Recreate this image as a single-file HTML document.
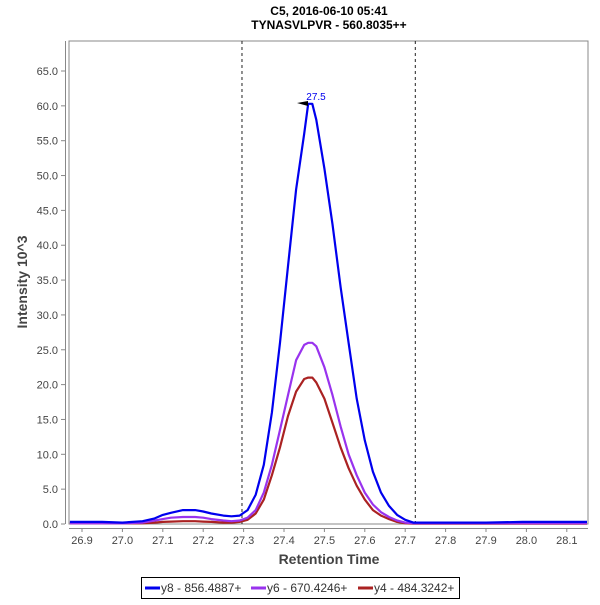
<!DOCTYPE html>
<html><head><meta charset="utf-8"><style>
body{margin:0;background:#fff;}
svg text{font-family:"Liberation Sans",sans-serif;}
</style></head><body>
<svg id="chart" width="600" height="600" viewBox="0 0 600 600" xmlns="http://www.w3.org/2000/svg">
<rect width="600" height="600" fill="#fff"/>
<text x="329" y="15" text-anchor="middle" font-size="12" font-weight="bold">C5, 2016-06-10 05:41</text>
<text x="329" y="29" text-anchor="middle" font-size="12" font-weight="bold">TYNASVLPVR - 560.8035++</text>
<rect x="69" y="41" width="519" height="483" fill="#fff" stroke="#888" stroke-width="1"/>
<line x1="65.5" y1="41" x2="65.5" y2="524" stroke="#888"/>
<line x1="69" y1="528.5" x2="588" y2="528.5" stroke="#888"/>
<g id="yticks"></g><g id="xticks"></g>
<g id="marks"></g><g id="series"></g>
<text x="316" y="100" text-anchor="middle" font-size="10" fill="#0000ee">27.5</text>
<polygon points="297,103 308,101 308,106" fill="#000"/>
<text transform="translate(27,282) rotate(-90)" text-anchor="middle" font-size="14" font-weight="bold" fill="#444">Intensity 10^3</text>
<text x="329" y="564" text-anchor="middle" font-size="14" font-weight="bold" fill="#444">Retention Time</text>
<g>
<rect x="141.5" y="577.5" width="318" height="21" fill="#fff" stroke="#000"/>
<line x1="145" y1="588" x2="160" y2="588" stroke="#0000ee" stroke-width="3"/>
<text x="161" y="592" font-size="12" fill="#333">y8 - 856.4887+</text>
<line x1="251" y1="588" x2="266" y2="588" stroke="#9933ee" stroke-width="3"/>
<text x="267" y="592" font-size="12" fill="#333">y6 - 670.4246+</text>
<line x1="358" y1="588" x2="373" y2="588" stroke="#aa2222" stroke-width="3"/>
<text x="374" y="592" font-size="12" fill="#333">y4 - 484.3242+</text>
</g>
</svg>
<script>
const times=[26.87,26.95,27.0,27.05,27.08,27.1,27.12,27.15,27.18,27.2,27.22,27.25,27.27,27.29,27.31,27.33,27.35,27.37,27.39,27.41,27.43,27.45,27.46,27.47,27.48,27.5,27.52,27.54,27.56,27.58,27.6,27.62,27.64,27.66,27.68,27.7,27.72,27.75,27.9,27.99,28.15];
const y8=[0.3,0.3,0.2,0.4,0.8,1.3,1.6,2.0,2.0,1.8,1.5,1.2,1.1,1.2,2.0,4.2,8.5,16,26,37,48,56,60.3,60.3,58,51,43,34,26,18,12,7.5,4.5,2.6,1.3,0.6,0.2,0.2,0.2,0.3,0.3];
const y6=[0.1,0.1,0.1,0.2,0.5,0.7,0.9,1.0,1.0,0.9,0.7,0.5,0.4,0.5,0.9,2.0,4.5,8.5,13.5,18.5,23.5,25.7,26,26,25.5,22.5,18.5,14,10,7,4.5,2.8,1.7,1.0,0.5,0.2,0.1,0.1,0.1,0.1,0.1];
const y4=[0.1,0.1,0.1,0.1,0.2,0.3,0.35,0.4,0.4,0.35,0.3,0.2,0.2,0.3,0.6,1.5,3.5,7,11,15.5,19,20.8,21,21,20.3,18,14.5,11,8,5.5,3.5,2,1.2,0.7,0.3,0.1,0.05,0.05,0.05,0.05,0.05];
const yTicks=[0,5,10,15,20,25,30,35,40,45,50,55,60,65];
const xTicks=[26.9,27.0,27.1,27.2,27.3,27.4,27.5,27.6,27.7,27.8,27.9,28.0,28.1];
const markers=[27.296,27.725];
const NS="http://www.w3.org/2000/svg";
function sx(t){return 82+(t-26.9)*404;}
function sy(v){return 524-v*(453/65);}
function mk(tag,attrs,parent){const e=document.createElementNS(NS,tag);for(const k in attrs)e.setAttribute(k,attrs[k]);parent.appendChild(e);return e;}
const yg=document.getElementById('yticks'),xg=document.getElementById('xticks'),mg=document.getElementById('marks'),sg=document.getElementById('series');
yTicks.forEach(v=>{
 const l=mk('line',{x1:61,x2:65,y1:sy(v),y2:sy(v),stroke:'#888'},yg);
 
 
 const t=mk('text',{x:58,y:sy(v)+4,'text-anchor':'end','font-size':11,fill:'#444'},yg);
 t.textContent=v.toFixed(1);
 
 
});
xTicks.forEach(v=>{
 const l=mk('line',{x1:sx(v),x2:sx(v),y1:528,y2:532,stroke:'#888'},xg);
 
 
 const t=mk('text',{x:sx(v),y:544,'text-anchor':'middle','font-size':11,fill:'#444'},xg);
 t.textContent=v.toFixed(1);
 
 
});
markers.forEach(v=>{
 const l=mk('line',{x1:sx(v),x2:sx(v),y1:41,y2:524,stroke:'#222','stroke-dasharray':'3,3'},mg);
 
 
});
[[y4,'#aa2222','series-y4'],[y6,'#9933ee','series-y6'],[y8,'#0000ee','series-y8']].forEach(([vals,c,n])=>{
 const p=mk('polyline',{points:times.map((t,i)=>sx(t).toFixed(1)+','+sy(vals[i]).toFixed(1)).join(' '),fill:'none',stroke:c,'stroke-width':2.2,'stroke-linejoin':'round'},sg);
 
 
});
</script>
</body></html>
